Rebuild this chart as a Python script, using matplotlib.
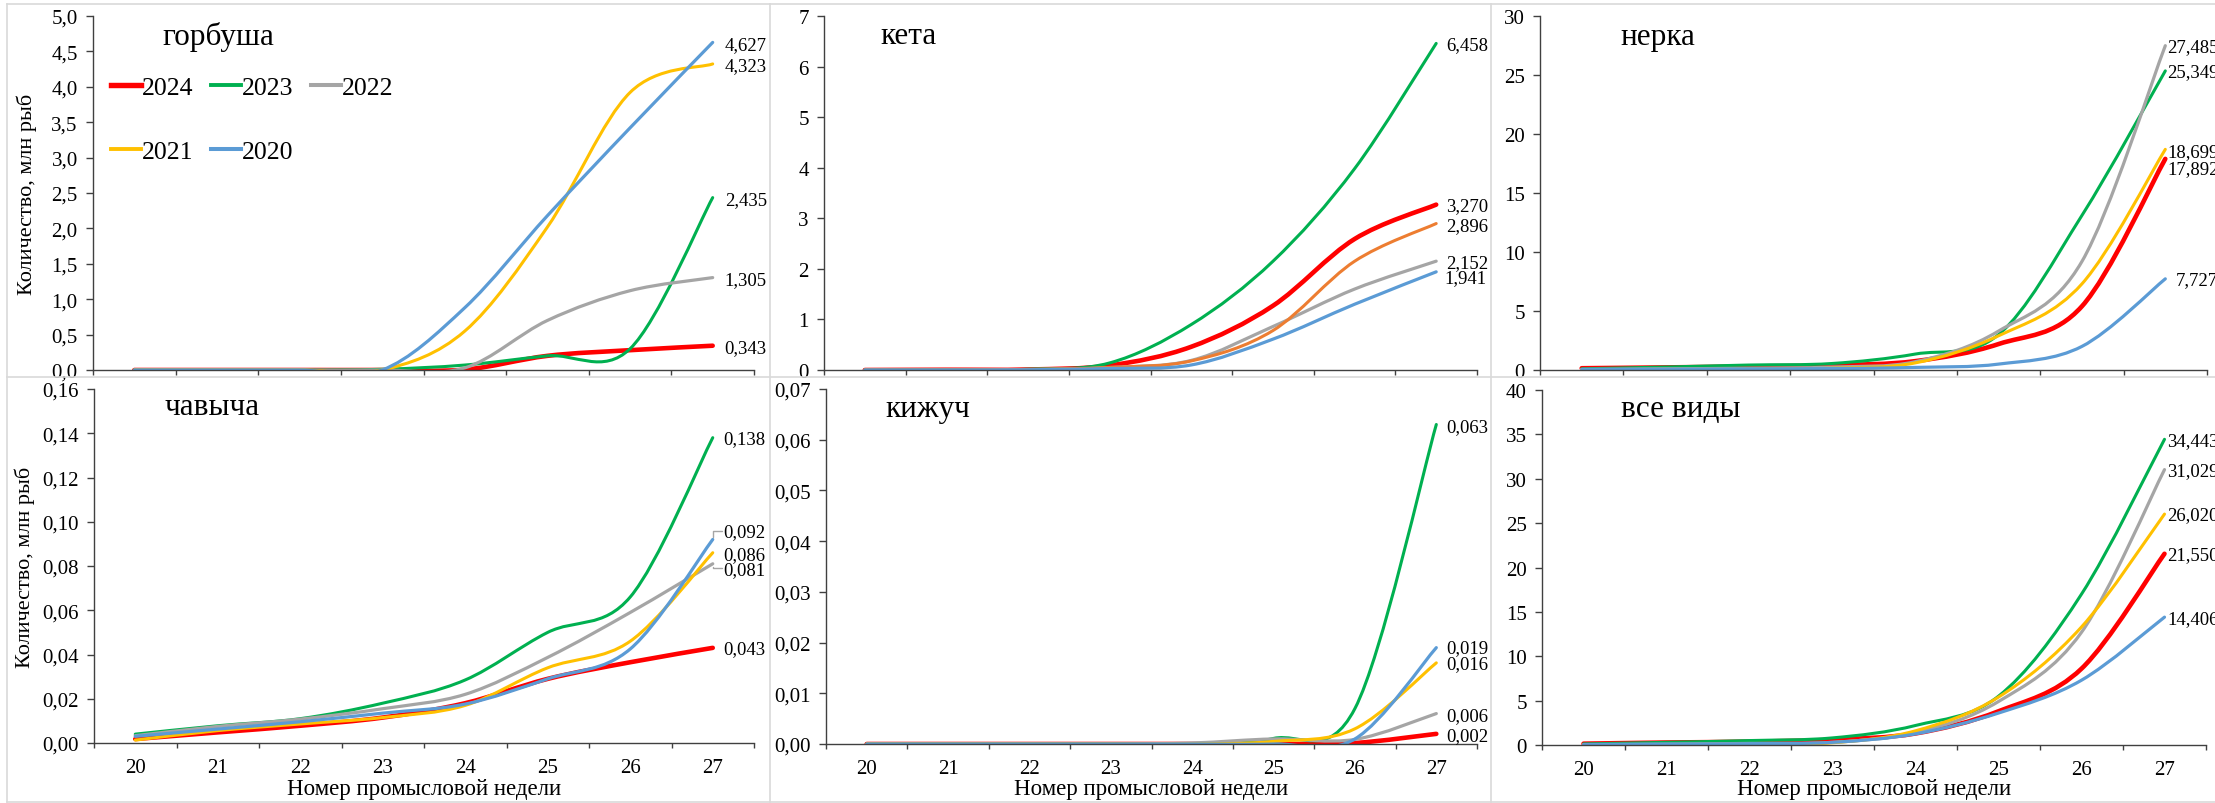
import matplotlib
matplotlib.use("Agg")
import matplotlib.pyplot as plt
from matplotlib.path import Path
from matplotlib.patches import PathPatch
from matplotlib.lines import Line2D
from matplotlib.ticker import FuncFormatter, FixedLocator

plt.rcParams['font.family'] = ['Liberation Serif', 'DejaVu Serif']

weeks = [20, 21, 22, 23, 24, 25, 26, 27]
years = ['2024', '2023', '2022', '2021', '2020']

# cumulative catch, mln fish, by week
gorbusha = {
    '2024': [0, 0, 0, 0, 0.005, 0.20, 0.28, 0.343],
    '2023': [0, 0, 0, 0.01, 0.07, 0.20, 0.30, 2.435],
    '2022': [0, 0, 0, 0, 0.03, 0.70, 1.12, 1.305],
    '2021': [0, 0, 0, 0, 0.55, 2.02, 3.92, 4.323],
    '2020': [0, 0, 0, 0, 0.88, 2.18, 3.42, 4.627],
}
keta = {
    '2024': [0, 0.005, 0.01, 0.09, 0.46, 1.27, 2.59, 3.270],
    '2023': [0, 0.005, 0.015, 0.14, 0.90, 2.15, 3.98, 6.458],
    '2022': [0, 0, 0.01, 0.05, 0.19, 0.86, 1.60, 2.152],
    '2021': [0, 0, 0.01, 0.05, 0.18, 0.78, 2.15, 2.896],
    '2020': [0, 0, 0.005, 0.03, 0.10, 0.61, 1.30, 1.941],
}
nerka = {
    '2024': [0.15, 0.22, 0.30, 0.40, 0.75, 2.2, 5.4, 17.892],
    '2023': [0.10, 0.25, 0.42, 0.55, 1.35, 3.0, 13.1, 25.349],
    '2022': [0.05, 0.10, 0.15, 0.25, 0.70, 3.3, 9.2, 27.485],
    '2021': [0.03, 0.05, 0.08, 0.15, 0.60, 2.9, 7.3, 18.699],
    '2020': [0.05, 0.07, 0.10, 0.12, 0.22, 0.5, 2.0, 7.727],
}
chavycha = {
    '2024': [0.0018, 0.0048, 0.0078, 0.0115, 0.018, 0.029, 0.0365, 0.043],
    '2023': [0.0040, 0.0078, 0.0110, 0.0180, 0.0285, 0.050, 0.066, 0.138],
    '2022': [0.0033, 0.0075, 0.0108, 0.0155, 0.022, 0.0387, 0.059, 0.081],
    '2021': [0.0013, 0.0056, 0.0086, 0.0115, 0.017, 0.034, 0.046, 0.086],
    '2020': [0.0030, 0.0063, 0.0096, 0.0135, 0.0176, 0.029, 0.0425, 0.092],
}
kizhuch = {
    '2024': [0, 0, 0, 0, 0, 0, 0.0002, 0.002],
    '2023': [0, 0, 0, 0, 0, 0.0011, 0.007, 0.063],
    '2022': [0, 0, 0, 0, 0.0002, 0.001, 0.0009, 0.006],
    '2021': [0, 0, 0, 0, 0, 0.0005, 0.003, 0.016],
    '2020': [0, 0, 0, 0, 0, 0, 0.001, 0.019],
}
vse = {
    '2024': [0.15, 0.28, 0.38, 0.60, 1.30, 3.8, 8.6, 21.550],
    '2023': [0.12, 0.30, 0.50, 0.80, 2.20, 5.5, 17.0, 34.443],
    '2022': [0.05, 0.10, 0.18, 0.30, 1.40, 4.9, 12.7, 31.029],
    '2021': [0.03, 0.05, 0.10, 0.25, 1.60, 5.4, 13.3, 26.020],
    '2020': [0.05, 0.10, 0.15, 0.30, 1.25, 3.6, 7.3, 14.406],
}

colors = {'2024': '#FF0000', '2023': '#00B050', '2022': '#A5A5A5',
          '2021': '#FFC000', '2020': '#5B9BD5'}
widths = {'2024': 3.3, '2023': 2.2, '2022': 2.3, '2021': 2.2, '2020': 2.3}

W, H = 2215, 804
fig = plt.figure(figsize=(W / 100, H / 100), dpi=100)


def px_axes(l, t, r, b):
    return fig.add_axes([l / W, 1 - b / H, (r - l) / W, (b - t) / H])


def smooth_path(x, y):
    # Excel-like smoothed line: cubic bezier through the points
    n = len(x)
    verts = [(x[0], y[0])]
    codes = [Path.MOVETO]
    for i in range(n - 1):
        a = max(i - 1, 0)
        d = min(i + 2, n - 1)
        c1 = (x[i] + (x[i + 1] - x[a]) / 6, y[i] + (y[i + 1] - y[a]) / 6)
        c2 = (x[i + 1] - (x[d] - x[i]) / 6, y[i + 1] - (y[d] - y[i]) / 6)
        verts += [c1, c2, (x[i + 1], y[i + 1])]
        codes += [Path.CURVE4] * 3
    return Path(verts, codes)


def comma(fmt):
    return FuncFormatter(lambda v, p: (fmt % v).replace('.', ','))


# name, data, rect(px), ymax, ystep, tick fmt, title pos(px), label fmt, label offsets
panels = [
    ('горбуша', gorbusha, (93, 17, 754, 371), 5.0, 0.5, '%.1f', (162, 37), '%.3f',
     {'2024': (12, -2), '2023': (12, -2), '2022': (12, -2), '2021': (12, -2), '2020': (12, -2)}),
    ('кета', keta, (824, 17, 1477, 371), 7, 1, '%d', (880, 37), '%.3f',
     {'2024': (10, -1), '2023': (10, -1), '2022': (10, -1), '2021': (10, -2), '2020': (8, -6)}),
    ('нерка', nerka, (1540, 17, 2207, 371), 30, 5, '%d', (1620, 37), '%.3f',
     {'2024': (2, -10), '2023': (2, -1), '2022': (2, -1), '2021': (2, -2), '2020': (10, -1)}),
    ('чавыча', chavycha, (94, 390, 754, 744), 0.16, 0.02, '%.2f', (165, 408), '%.3f',
     {'2024': (11, -1), '2023': (11, -1), '2022': (11, -6), '2021': (11, -2), '2020': (11, 8)}),
    ('кижуч', kizhuch, (826, 390, 1477, 745), 0.07, 0.01, '%.2f', (885, 410), '%.3f',
     {'2024': (10, -2), '2023': (10, -2), '2022': (10, -2), '2021': (10, -1), '2020': (10, 0)}),
    ('все виды', vse, (1542, 391, 2206, 746), 40, 5, '%d', (1621, 410), '%.3f',
     {'2024': (3, -1), '2023': (3, -1), '2022': (3, -1), '2021': (3, -1), '2020': (3, -1)}),
]

for k, (name, data, rect, ymax, ystep, tfmt, tpos, lfmt, offs) in enumerate(panels):
    ax = px_axes(*rect)
    for yr in years:
        col = colors[yr]
        if name == 'кета' and yr == '2021':
            col = '#ED7D31'
        patch = PathPatch(smooth_path(weeks, data[yr]), facecolor='none', edgecolor=col,
                          lw=widths[yr], capstyle='round', joinstyle='round')
        ax.add_patch(patch)
        dx, dy = offs[yr]
        v = data[yr][-1]
        ax.annotate((lfmt % v).replace('.', ','), xy=(weeks[-1], v), xytext=(dx, dy),
                    textcoords='offset pixels', ha='left', va='center', fontsize=13.5,
                    annotation_clip=False)
    if name == 'чавыча':
        ax.annotate('', xy=(weeks[-1], data['2020'][-1]), xytext=(9, 8),
                    textcoords='offset pixels',
                    arrowprops=dict(arrowstyle='-', color='#A6A6A6', lw=1,
                                    shrinkA=0, shrinkB=2,
                                    connectionstyle='angle,angleA=0,angleB=90,rad=0'))
        ax.annotate('', xy=(weeks[-1], data['2022'][-1]), xytext=(9, -4),
                    textcoords='offset pixels',
                    arrowprops=dict(arrowstyle='-', color='#A6A6A6', lw=1,
                                    shrinkA=0, shrinkB=2,
                                    connectionstyle='angle,angleA=0,angleB=90,rad=0'))

    ax.set_xlim(19.5, 27.5)
    ax.set_ylim(0, ymax)
    nt = int(round(ymax / ystep))
    ax.yaxis.set_major_locator(FixedLocator([i * ystep for i in range(nt + 1)]))
    ax.yaxis.set_major_formatter(comma(tfmt))
    ax.xaxis.set_major_locator(FixedLocator([19.5 + i for i in range(9)]))
    ax.xaxis.set_minor_locator(FixedLocator(weeks))
    ax.xaxis.set_major_formatter(FuncFormatter(lambda v, p: ''))
    if rect[1] > 300:
        ax.xaxis.set_minor_formatter(FuncFormatter(lambda v, p: '%d' % v))
    else:
        ax.xaxis.set_minor_formatter(FuncFormatter(lambda v, p: ''))
    for s in ['top', 'right']:
        ax.spines[s].set_visible(False)
    for s in ['left', 'bottom']:
        ax.spines[s].set_color('#404040')
        ax.spines[s].set_linewidth(1.0)
    ax.tick_params(axis='y', direction='out', length=5, width=1, color='#404040',
                   labelsize=15, pad=6)
    ax.tick_params(axis='x', which='major', direction='out', length=3.6, width=1,
                   color='#404040')
    ax.tick_params(axis='x', which='minor', length=0, labelsize=15, pad=11)
    ax.patch.set_alpha(0)

    fig.text(tpos[0] / W, 1 - tpos[1] / H, name, fontsize=22.5, ha='left', va='center')

    if rect[1] > 300:
        cx = (rect[0] + rect[2]) / 2
        fig.text(cx / W, 1 - 790 / H, 'Номер промысловой недели', fontsize=16.5,
                 ha='center', va='center')
    if rect[0] < 100:
        cy = (rect[1] + rect[3]) / 2
        fig.text((27 if rect[1] < 300 else 25) / W, 1 - cy / H, 'Количество, млн рыб',
                 fontsize=16, rotation=90, ha='center', va='center')

    if name == 'горбуша':
        order = ['2024', '2021', '2023', '2020', '2022']
        handles = [Line2D([], [], color=colors[y], lw=widths[y] + 0.6) for y in order]
        ax.legend(handles, order, loc='upper left', bbox_to_anchor=(0.027, 0.83),
                  ncol=3, frameon=False, fontsize=18.5, borderpad=0, borderaxespad=0,
                  handlelength=1.16, handletextpad=0.05, columnspacing=0.68,
                  labelspacing=1.6)

# panel frames
gray = '#D9D9D9'
for x in [7, 770, 1491]:
    fig.add_artist(Line2D([x / W, x / W], [1 - 5 / H, 1 - 803 / H], color=gray, lw=1.2))
for y in [5, 378, 803]:
    fig.add_artist(Line2D([7 / W, 1], [1 - y / H, 1 - y / H], color=gray, lw=1.2))

fig.savefig('out.png', dpi=100)
